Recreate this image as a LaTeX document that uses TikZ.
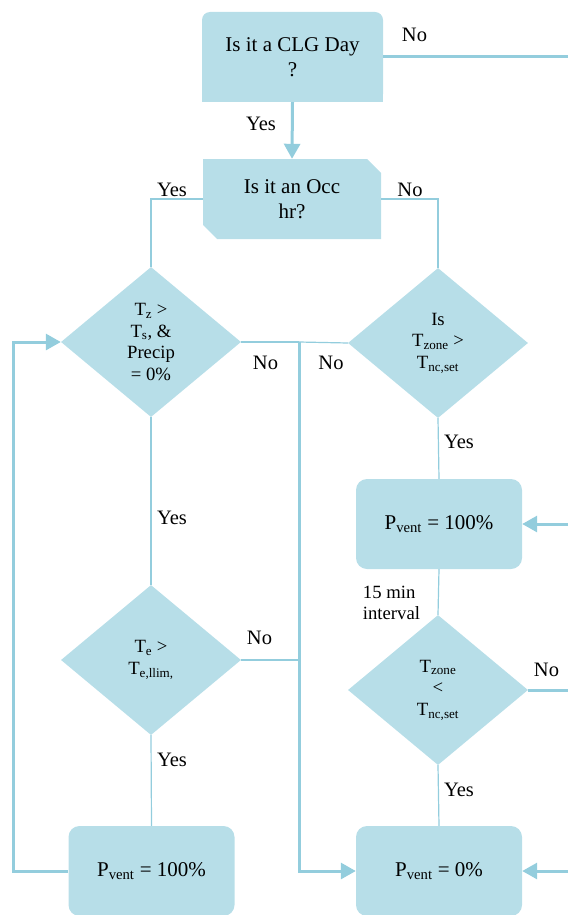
\documentclass[tikz,border=0pt]{standalone}
\usepackage{fontspec}
\setmainfont{Liberation Serif}
\usepackage{tikz}
\usetikzlibrary{arrows.meta,shapes.geometric,shapes.misc,backgrounds}
\definecolor{boxfill}{HTML}{B7DEE8}
\definecolor{flowline}{HTML}{93CDDD}
\tikzset{
  basebox/.style={
    fill=boxfill,
    align=center,
    inner sep=0pt,
    font=\fontsize{21}{25}\selectfont
  },
  daybox/.style={
    basebox,
    rounded corners=8pt,
    minimum width=181pt,
    minimum height=90pt
  },
  occbox/.style={
    basebox,
    chamfered rectangle,
    chamfered rectangle corners={north east,south west},
    chamfered rectangle xsep=7pt,
    chamfered rectangle ysep=7pt,
    minimum width=178pt,
    minimum height=80pt
  },
  ventbox/.style={
    basebox,
    rounded corners=11pt,
    minimum width=166pt,
    minimum height=90pt
  },
  testnode/.style={
    basebox,
    diamond,
    aspect=1.2,
    minimum width=180pt,
    minimum height=150pt,
    font=\fontsize{18.7}{21.7}\selectfont
  },
  answer/.style={inner sep=0pt, font=\fontsize{20.5}{24}\selectfont},
  thinflow/.style={draw=flowline, line width=1.2pt},
  thickflow/.style={draw=flowline, line width=3pt},
  thickarrow/.style={thickflow, -{Triangle[length=15pt,width=16pt]}}
}

\begin{document}
\begin{tikzpicture}[x=1pt,y=-1pt]
  \useasboundingbox (0,0) rectangle (568,915);
  % boxes and tests
  \node[daybox] (clg) at (292.5,57) {Is it a CLG Day\\?};
  \node[occbox] (occ) at (292,199) {Is it an Occ\\hr?};
  \node[testnode] (precip) at (151,342) {T\textsubscript{z} >\\T\textsubscript{s}, \&\\Precip\\= 0\%};
  \node[testnode] (zonehi) at (438,343) {Is\\T\textsubscript{zone} >\\T\textsubscript{nc,set}};
  \node[testnode] (llim) at (151,660) {T\textsubscript{e} >\\T\textsubscript{e,llim,}};
  \node[testnode] (zonelo) at (438,690) {T\textsubscript{zone}\\<\\T\textsubscript{nc,set}};
  \node[ventbox] (ventmid) at (439,524) {P\textsubscript{vent} = 100\%};
  \node[ventbox] (ventleft) at (151.5,871) {P\textsubscript{vent} = 100\%};
  \node[ventbox] (ventoff) at (439,871) {P\textsubscript{vent} = 0\%};
  \begin{scope}[on background layer]
    \fill[boxfill] (clg.south west) rectangle (clg.east);
  \end{scope}

  % free ends at the right edge and corners
  \coordinate (dayexit) at (568,57);
  \coordinate (ventin) at (568,524);
  \coordinate (offin) at (568,871);
  \coordinate (loexit) at (568,690);
  \coordinate (loopcorner) at (13,871);
  \coordinate (spine) at (299,342);

  % connectors
  \draw[thickflow] (clg.east) -- (dayexit);
  \draw[thickarrow] (clg.south) -- (occ.north);
  \draw[thinflow] (occ.west) -| (precip.north);
  \draw[thinflow] (occ.east) -| (zonehi.north);
  \draw[thinflow] (precip.south) -- (llim.north);
  \draw[thinflow] (llim.south) -- (ventleft.north);
  \draw[thinflow] (zonehi.south) -- (ventmid.north);
  \draw[thinflow] (ventmid.south) -- (zonelo.north);
  \draw[thinflow] (zonelo.south) -- (ventoff.north);
  \draw[thinflow] (precip.east) -- (spine);
  \draw[thinflow] (zonehi.west) -- (spine);
  \draw[thinflow] (llim.east) -- (spine |- llim.east);
  \draw[thickarrow] (spine) |- (ventoff.west);
  \draw[thickarrow] (ventleft.west) -- (loopcorner) |- (precip.west);
  \draw[thickflow] (zonelo.east) -- (loexit);
  \draw[thickarrow] (ventin) -- (ventmid.east);
  \draw[thickarrow] (offin) -- (ventoff.east);

  % answers
  \node[answer] (dayno) at (414.5,35) {No};
  \node[answer] (dayyes) at (261,124) {Yes};
  \node[answer] (occyes) at (172,190) {Yes};
  \node[answer] (occno) at (410,190) {No};
  \node[answer] (precipno) at (265.5,363) {No};
  \node[answer] (zonehino) at (331,363) {No};
  \node[answer] (zonehiyes) at (459,442) {Yes};
  \node[answer] (precipyes) at (172,518) {Yes};
  \node[answer, font=\fontsize{18.7}{21.7}\selectfont, align=left] (interval) at (391.5,603) {15 min\\interval};
  \node[answer] (llimno) at (259.5,638) {No};
  \node[answer] (zonelono) at (546.5,669.5) {No};
  \node[answer] (llimyes) at (172,760) {Yes};
  \node[answer] (zoneloyes) at (459,790) {Yes};
\end{tikzpicture}
\end{document}
